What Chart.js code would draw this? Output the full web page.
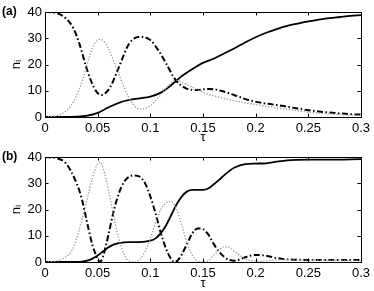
<!DOCTYPE html>
<html>
<head>
<meta charset="utf-8">
<script src="https://cdn.jsdelivr.net/npm/chart.js@4/dist/chart.umd.min.js"></script>
<style>
  html, body { margin: 0; padding: 0; background: #fff; }
  body { width: 374px; height: 291px; position: relative; overflow: hidden; font-family: "Liberation Sans", Arial, sans-serif; }
  .panel { position: absolute; left: 0; width: 374px; }
  .lbl { position: absolute; font-weight: bold; font-size: 12px; color: #000; }
</style>
</head>
<body>
<div class="panel" style="top:0;height:145px"><canvas id="ca" width="374" height="145"></canvas></div>
<div class="panel" style="top:145px;height:146px"><canvas id="cb" width="374" height="146"></canvas></div>
<div class="lbl" style="left:2px;top:4px">(a)</div>
<div class="lbl" style="left:2px;top:149px">(b)</div>
<script>
// ---------- tick labels ----------
const xTickValues = [0, 0.05, 0.1, 0.15, 0.2, 0.25, 0.3];
const xTickLabels = ["0", "0.05", "0.1", "0.15", "0.2", "0.25", "0.3"];
const yTickValues = [0, 10, 20, 30, 40];
const yTickLabels = ["0", "10", "20", "30", "40"];
const xTitle = "τ";
const yTitle = "nᵢ";

// ---------- panel (a) ----------
const solidA_t = [0, 0.02, 0.03, 0.04, 0.05, 0.06, 0.07, 0.08, 0.09, 0.1, 0.11, 0.12, 0.13, 0.14, 0.15, 0.16, 0.17, 0.18, 0.19, 0.2, 0.21, 0.22, 0.23, 0.24, 0.25, 0.26, 0.27, 0.28, 0.29, 0.3];
const solidA_n = [0, 0, 0.1, 0.5, 1.6, 3.6, 5.4, 6.5, 7.1, 7.8, 9.3, 12.2, 15.6, 18.3, 20.6, 22.2, 24.2, 26.2, 28.4, 30.4, 32.1, 33.5, 34.7, 35.6, 36.4, 37.1, 37.7, 38.1, 38.5, 38.8];

const dashA_t = [0, 0.01, 0.02, 0.027, 0.033, 0.039, 0.044, 0.049, 0.0535, 0.058, 0.063, 0.071, 0.08, 0.09, 0.1, 0.108, 0.115, 0.124, 0.134, 0.143, 0.156, 0.168, 0.18, 0.193, 0.21, 0.225, 0.24, 0.256, 0.27, 0.285, 0.3];
const dashA_n = [40, 39.7, 37.5, 33.8, 27.5, 19.2, 13.5, 9.6, 8.4, 9.3, 12.2, 19.8, 28, 30.6, 29.3, 25.2, 20.4, 14.1, 10.9, 10.3, 10.7, 9.9, 8.3, 6.5, 5.1, 4.3, 3.2, 2.3, 1.7, 1.2, 0.9];

const dotA_t = [0, 0.01, 0.02, 0.027, 0.036, 0.041, 0.046, 0.0525, 0.057, 0.0615, 0.071, 0.08, 0.09, 0.1, 0.108, 0.115, 0.124, 0.137, 0.1525, 0.171, 0.193, 0.21, 0.225, 0.24, 0.256, 0.27, 0.285, 0.3];
const dotA_n = [0, 0.4, 2.3, 5.8, 14.5, 21.5, 27.2, 29.6, 28.3, 24.9, 15.4, 7.1, 3, 4.3, 7.6, 10.9, 14, 11.9, 9, 7, 5.2, 4.1, 3.2, 2.4, 1.6, 1.2, 0.8, 0.6];

// ---------- panel (b) ----------
const solidB_t = [0, 0.03, 0.035, 0.04, 0.045, 0.05, 0.055, 0.06, 0.065, 0.07, 0.08, 0.09, 0.1, 0.105, 0.11, 0.115, 0.12, 0.125, 0.13, 0.135, 0.14, 0.15, 0.155, 0.16, 0.165, 0.17, 0.175, 0.18, 0.19, 0.2, 0.21, 0.22, 0.23, 0.24, 0.25, 0.27, 0.3];
const solidB_n = [0, 0, 0.1, 0.5, 1.3, 2.5, 4, 5.5, 6.6, 7.2, 7.6, 7.6, 8.1, 9, 11, 14, 18, 22, 25, 26.9, 27.5, 27.5, 28, 29.5, 31.2, 33, 34.7, 36, 37.3, 37.5, 37.6, 38.2, 38.7, 38.9, 39, 39, 39.2];

const dashB_t = [0, 0.01, 0.02, 0.03, 0.035, 0.04, 0.045, 0.05, 0.052, 0.055, 0.06, 0.065, 0.07, 0.075, 0.08, 0.085, 0.09, 0.095, 0.1, 0.105, 0.11, 0.115, 0.12, 0.123, 0.126, 0.13, 0.135, 0.14, 0.145, 0.15, 0.155, 0.16, 0.165, 0.17, 0.175, 0.18, 0.185, 0.19, 0.2, 0.21, 0.22, 0.23, 0.25, 0.3];
const dashB_n = [40, 39.6, 37.5, 30, 24, 15, 6.5, 1.2, 0, 2, 10, 19, 26, 30.5, 32.5, 33, 32.5, 30, 25, 18.5, 11, 5, 1, 0, 0.6, 3, 7, 11, 12.8, 12.5, 10.5, 7, 4, 2, 0.8, 0.5, 1, 1.8, 2.7, 2.4, 1.5, 1, 0.8, 0.8];

const dotB_t = [0, 0.01, 0.02, 0.025, 0.03, 0.035, 0.04, 0.045, 0.05, 0.052, 0.055, 0.06, 0.065, 0.07, 0.075, 0.08, 0.085, 0.09, 0.095, 0.1, 0.105, 0.11, 0.115, 0.12, 0.125, 0.13, 0.135, 0.14, 0.145, 0.15, 0.155, 0.16, 0.165, 0.17, 0.175, 0.18, 0.185, 0.19, 0.2, 0.21, 0.22, 0.25, 0.3];
const dotB_n = [0, 0.3, 2, 4, 9, 16, 24, 32, 37.5, 38, 36, 28, 18, 9, 3, 0.3, 0, 1, 4, 9, 15, 20, 22.5, 23, 20, 14, 7, 2.5, 0.3, 0, 0.5, 2.5, 4.5, 5.8, 5.5, 4, 2.5, 1.2, 0.3, 0.5, 0.8, 0.7, 0.5];

function pts(t, n) { return t.map((v, i) => ({ x: v, y: n[i] })); }

const frameTicks = {
  id: 'frameTicks',
  afterDraw(chart) {
    const { ctx, chartArea: a, scales } = chart;
    ctx.save();
    ctx.strokeStyle = '#000';
    ctx.lineWidth = 1;
    ctx.strokeRect(Math.round(a.left) + 0.5, Math.round(a.top) + 0.5, Math.round(a.right - a.left), Math.round(a.bottom - a.top));
    const L = 3.5;
    ctx.beginPath();
    scales.x.ticks.forEach(tk => {
      const px = Math.round(scales.x.getPixelForValue(tk.value)) + 0.5;
      ctx.moveTo(px, a.bottom); ctx.lineTo(px, a.bottom - L);
      ctx.moveTo(px, a.top); ctx.lineTo(px, a.top + L);
    });
    scales.y.ticks.forEach(tk => {
      const py = Math.round(scales.y.getPixelForValue(tk.value)) + 0.5;
      ctx.moveTo(a.left, py); ctx.lineTo(a.left + L, py);
      ctx.moveTo(a.right, py); ctx.lineTo(a.right - L, py);
    });
    ctx.stroke();
    ctx.restore();
  }
};

const font = { family: '"Liberation Sans", Arial, Helvetica, sans-serif', size: 13 };

function makeChart(id, solid, dash, dot, xAxisH) {
  return new Chart(document.getElementById(id), {
    type: 'line',
    data: {
      datasets: [
        { data: dot, borderColor: '#999999', borderWidth: 1.3, borderDash: [1.3, 1.7], pointRadius: 0, cubicInterpolationMode: 'monotone' },
        { data: dash, borderColor: '#000', borderWidth: 2, borderDash: [6, 2.5, 1.5, 2.5], pointRadius: 0, cubicInterpolationMode: 'monotone' },
        { data: solid, borderColor: '#000', borderWidth: 1.8, pointRadius: 0, cubicInterpolationMode: 'monotone' }
      ]
    },
    options: {
      responsive: false,
      animation: false,
      devicePixelRatio: 1,
      layout: { padding: { left: 0, right: 11, top: 12, bottom: 0 } },
      plugins: { legend: { display: false }, tooltip: { enabled: false } },
      scales: {
        x: {
          type: 'linear', min: 0, max: 0.3,
          afterBuildTicks: s => { s.ticks = xTickValues.map(v => ({ value: v })); },
          afterFit: s => { s.height = xAxisH; },
          ticks: { color: '#000', font, padding: 4, maxRotation: 0, autoSkip: false,
                   callback: v => xTickLabels[xTickValues.indexOf(v)] },
          grid: { display: false, drawTicks: false },
          border: { display: false },
          title: { display: true, text: xTitle, color: '#000', font, padding: { top: 0, bottom: 0 } }
        },
        y: {
          type: 'linear', min: 0, max: 40,
          afterBuildTicks: s => { s.ticks = yTickValues.map(v => ({ value: v })); },
          afterFit: s => { s.width = 45; },
          ticks: { color: '#000', font, padding: 3,
                   callback: v => yTickLabels[yTickValues.indexOf(v)] },
          grid: { display: false, drawTicks: false },
          border: { display: false },
          title: { display: true, text: yTitle, color: '#000', font, padding: { top: 9, bottom: 0 } }
        }
      }
    },
    plugins: [frameTicks]
  });
}

makeChart('ca', pts(solidA_t, solidA_n), pts(dashA_t, dashA_n), pts(dotA_t, dotA_n), 28);
makeChart('cb', pts(solidB_t, solidB_n), pts(dashB_t, dashB_n), pts(dotB_t, dotB_n), 29);
</script>
</body>
</html>
